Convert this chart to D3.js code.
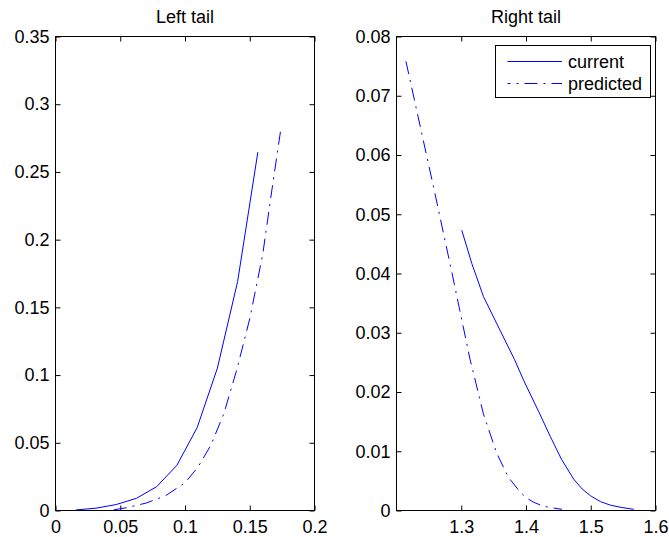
<!DOCTYPE html>
<html><head><meta charset="utf-8">
<script src="https://cdn.jsdelivr.net/npm/d3@7/dist/d3.min.js"></script>
<style>
body{margin:0;background:#fff}
text{font-family:"Liberation Sans",Arial,Helvetica,sans-serif;fill:#000}
</style>
</head><body>
<svg id="chart" width="669" height="537"></svg>
<script>
// ---- data ----
const titles = ["Left tail", "Right tail"];
const seriesNames = ["current", "predicted"];

const leftCurrentX = [0.015625, 0.03125, 0.046875, 0.0625, 0.078125, 0.09375, 0.109375, 0.125, 0.140625, 0.15625];
const leftCurrentY = [0.0004, 0.0017, 0.0044, 0.0090, 0.0176, 0.0334, 0.0612, 0.1051, 0.169, 0.2646];

const leftPredX = [0.045, 0.055, 0.07, 0.085, 0.1, 0.11, 0.12, 0.13, 0.14, 0.15, 0.16, 0.167, 0.1737];
const leftPredY = [0.0005, 0.0021, 0.0055, 0.0109, 0.0205, 0.032, 0.0483, 0.0715, 0.104, 0.1416, 0.189, 0.236, 0.2797];

const rightCurrentX = [1.3008, 1.3163, 1.3343, 1.3600, 1.3822, 1.3962, 1.4200, 1.4375, 1.4550, 1.4736, 1.4870, 1.4995, 1.5150, 1.5305, 1.5480, 1.5664];
const rightCurrentY = [0.0473, 0.0417, 0.0361, 0.0304, 0.0255, 0.0220, 0.0166, 0.0125, 0.0086, 0.0053, 0.0036, 0.0025, 0.0015, 0.0009, 0.0005, 0.0002];

const rightPredX = [1.2146, 1.2594, 1.2853, 1.3136, 1.3229, 1.3342, 1.3550, 1.3729, 1.3910, 1.4010, 1.4117, 1.4250, 1.4375, 1.4556];
const rightPredY = [0.0758, 0.0535, 0.0403, 0.0255, 0.0214, 0.0163, 0.0096, 0.0056, 0.0031, 0.0021, 0.0014, 0.0008, 0.0005, 0.0002];

const leftXTicks = [0, 0.05, 0.1, 0.15, 0.2];
const leftXTickLabels = ["0", "0.05", "0.1", "0.15", "0.2"];
const leftYTicks = [0, 0.05, 0.1, 0.15, 0.2, 0.25, 0.3, 0.35];
const leftYTickLabels = ["0", "0.05", "0.1", "0.15", "0.2", "0.25", "0.3", "0.35"];

const rightXTicks = [1.3, 1.4, 1.5, 1.6];
const rightXTickLabels = ["1.3", "1.4", "1.5", "1.6"];
const rightYTicks = [0, 0.01, 0.02, 0.03, 0.04, 0.05, 0.06, 0.07, 0.08];
const rightYTickLabels = ["0", "0.01", "0.02", "0.03", "0.04", "0.05", "0.06", "0.07", "0.08"];

const leftXDomain = [0, 0.2], leftYDomain = [0, 0.35];
const rightXDomain = [1.2, 1.6], rightYDomain = [0, 0.08];

// ---- drawing ----
const svg = d3.select("#chart");
const FONT = 18;
const BLUE = "#0000ff";
const DASHDOT = "13,6,2,6";

function panel(o) {
  const x = d3.scaleLinear().domain(o.xDomain).range([o.x0, o.x1]);
  const y = d3.scaleLinear().domain(o.yDomain).range([o.y1, o.y0]);
  const g = svg.append("g");

  g.append("rect").attr("x", o.x0).attr("y", o.y0)
    .attr("width", o.x1 - o.x0).attr("height", o.y1 - o.y0)
    .attr("fill", "none").attr("stroke", "#000").attr("stroke-width", 1);

  const fmt = (labels, ticks) => d => labels[ticks.indexOf(d)];

  const ax = g.append("g").attr("transform", `translate(0,${o.y1})`)
    .call(d3.axisBottom(x).tickValues(o.xTicks).tickFormat(fmt(o.xLabels, o.xTicks))
      .tickSizeInner(-5).tickSizeOuter(0).tickPadding(10));
  const ay = g.append("g").attr("transform", `translate(${o.x0},0)`)
    .call(d3.axisLeft(y).tickValues(o.yTicks).tickFormat(fmt(o.yLabels, o.yTicks))
      .tickSizeInner(-5).tickSizeOuter(0).tickPadding(6));
  const at = g.append("g").attr("transform", `translate(0,${o.y0})`)
    .call(d3.axisTop(x).tickValues(o.xTicks).tickFormat("").tickSizeInner(-5).tickSizeOuter(0));
  const ar = g.append("g").attr("transform", `translate(${o.x1},0)`)
    .call(d3.axisRight(y).tickValues(o.yTicks).tickFormat("").tickSizeInner(-5).tickSizeOuter(0));
  [ax, ay, at, ar].forEach(a => {
    a.select(".domain").remove();
    a.selectAll("line").attr("stroke", "#000");
    a.selectAll("text").attr("font-size", FONT)
      .attr("font-family", '"Liberation Sans",Arial,Helvetica,sans-serif').attr("fill", "#000");
  });

  g.append("text").attr("x", (o.x0 + o.x1) / 2).attr("y", 22.5)
    .attr("text-anchor", "middle").attr("font-size", FONT).text(o.title);

  const line = d3.line().x(d => x(d[0])).y(d => y(d[1]));
  const cur = o.cx.map((v, i) => [v, o.cy[i]]);
  const pre = o.px.map((v, i) => [v, o.py[i]]);
  g.append("path").datum(cur).attr("d", line).attr("fill", "none")
    .attr("stroke", BLUE).attr("stroke-width", 1);
  g.append("path").datum(pre).attr("d", line).attr("fill", "none")
    .attr("stroke", BLUE).attr("stroke-width", 1).attr("stroke-dasharray", DASHDOT);
  return g;
}

panel({
  x0: 55.5, x1: 314.5, y0: 36.5, y1: 510.5,
  xDomain: leftXDomain, yDomain: leftYDomain,
  xTicks: leftXTicks, xLabels: leftXTickLabels, yTicks: leftYTicks, yLabels: leftYTickLabels,
  title: titles[0], cx: leftCurrentX, cy: leftCurrentY, px: leftPredX, py: leftPredY
});
panel({
  x0: 396.5, x1: 655.5, y0: 36.5, y1: 510.5,
  xDomain: rightXDomain, yDomain: rightYDomain,
  xTicks: rightXTicks, xLabels: rightXTickLabels, yTicks: rightYTicks, yLabels: rightYTickLabels,
  title: titles[1], cx: rightCurrentX, cy: rightCurrentY, px: rightPredX, py: rightPredY
});

// legend
const lg = svg.append("g");
lg.append("rect").attr("x", 495.5).attr("y", 45.5).attr("width", 155).attr("height", 52)
  .attr("fill", "#fff").attr("stroke", "#000").attr("stroke-width", 1);
seriesNames.forEach((name, i) => {
  const yy = 61.5 + i * 22;
  lg.append("line").attr("x1", 507.5).attr("x2", 562).attr("y1", yy).attr("y2", yy)
    .attr("stroke", BLUE).attr("stroke-width", 1)
    .attr("stroke-dasharray", i === 1 ? DASHDOT : null)
    .attr("stroke-dashoffset", i === 1 ? 10 : null);
  lg.append("text").attr("x", 568).attr("y", yy).attr("dy", "0.35em")
    .attr("font-size", FONT).text(name);
});
</script>
</body></html>
